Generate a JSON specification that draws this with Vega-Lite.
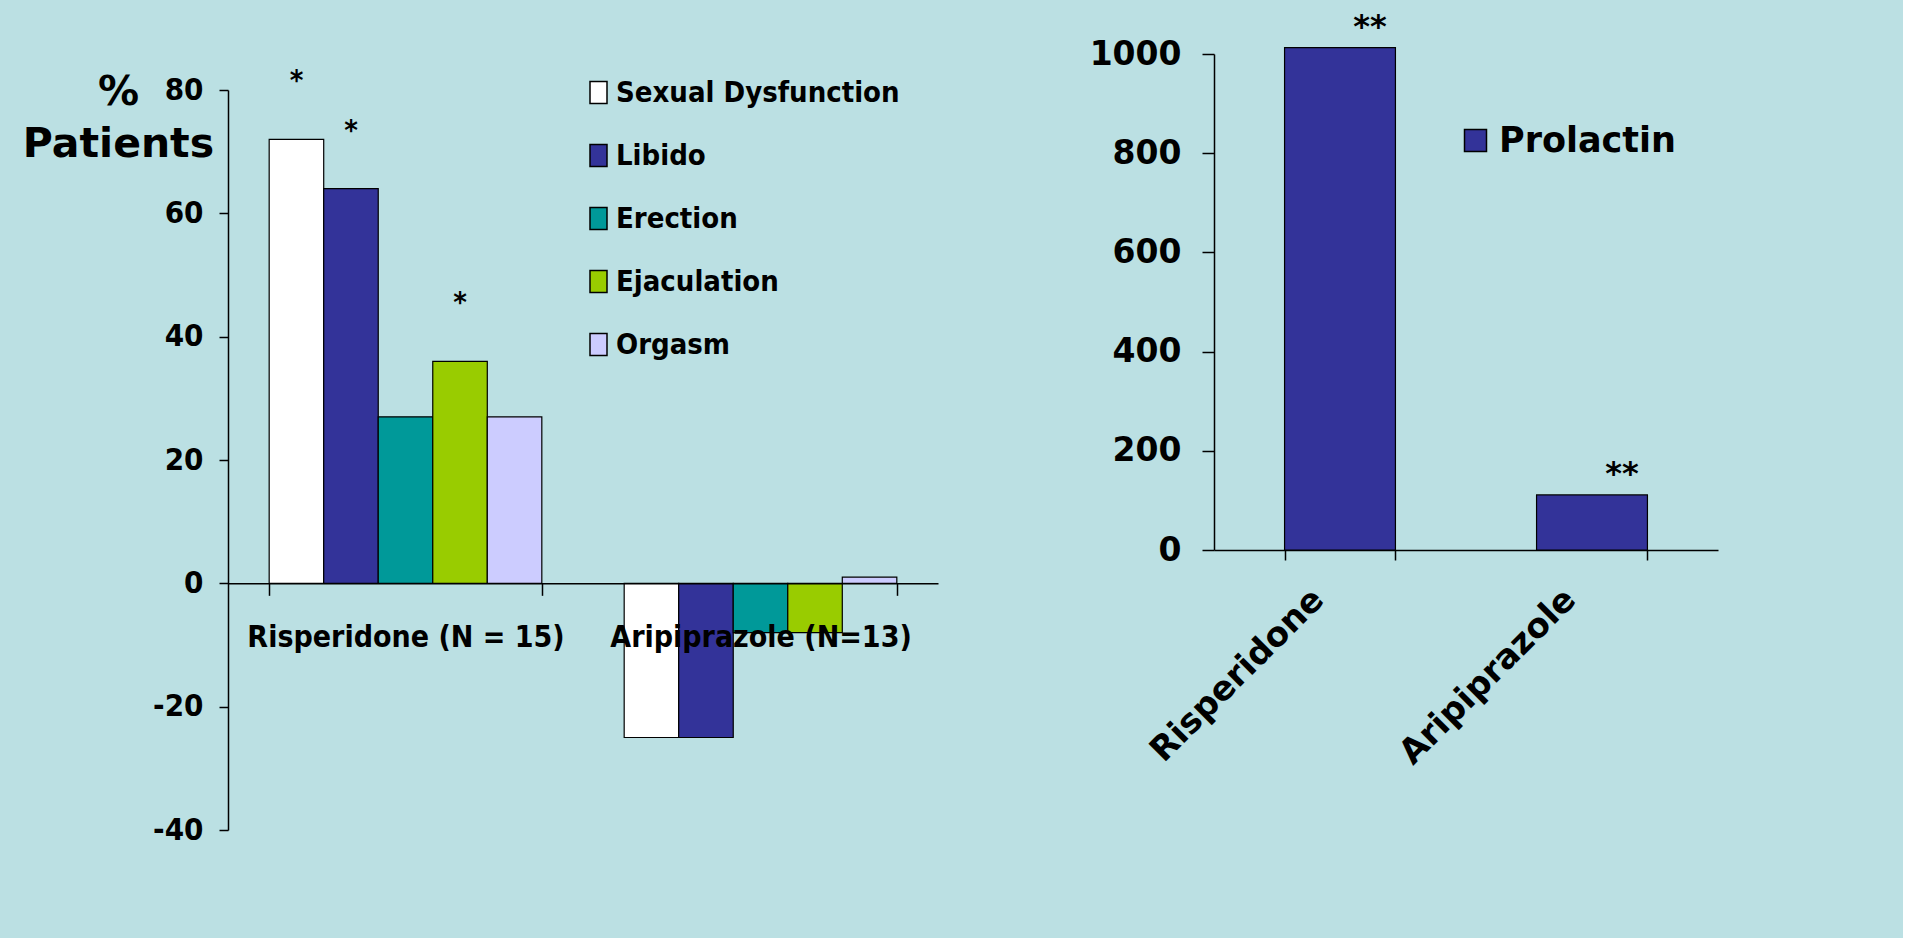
{
  "$schema": "https://vega.github.io/schema/vega-lite/v6.json",
  "background": "#BBE0E3",
  "padding": {"left": 22, "top": 10, "right": 185, "bottom": 109},
  "config": {
    "view": {"stroke": null},
    "axis": {"grid": false, "domainColor": "#000000", "tickColor": "#000000", "labelColor": "#000000", "titleColor": "#000000", "domainWidth": 1.5, "tickWidth": 1.5},
    "concat": {"spacing": 151}
  },
  "resolve": {"scale": {"color": "independent"}, "legend": {"color": "independent"}},
  "datasets": {
    "sexual": [
      {"drug": "Risperidone (N = 15)", "measure": "Sexual Dysfunction", "value": 72, "star": "*"},
      {"drug": "Risperidone (N = 15)", "measure": "Libido", "value": 64, "star": "*"},
      {"drug": "Risperidone (N = 15)", "measure": "Erection", "value": 27, "star": ""},
      {"drug": "Risperidone (N = 15)", "measure": "Ejaculation", "value": 36, "star": "*"},
      {"drug": "Risperidone (N = 15)", "measure": "Orgasm", "value": 27, "star": ""},
      {"drug": "Aripiprazole (N=13)", "measure": "Sexual Dysfunction", "value": -25, "star": ""},
      {"drug": "Aripiprazole (N=13)", "measure": "Libido", "value": -25, "star": ""},
      {"drug": "Aripiprazole (N=13)", "measure": "Erection", "value": -8, "star": ""},
      {"drug": "Aripiprazole (N=13)", "measure": "Ejaculation", "value": -8, "star": ""},
      {"drug": "Aripiprazole (N=13)", "measure": "Orgasm", "value": 1, "star": ""}
    ],
    "prolactin": [
      {"drug": "Risperidone", "series": "Prolactin", "prolactin": 1013, "star": "**"},
      {"drug": "Aripiprazole", "series": "Prolactin", "prolactin": 111, "star": "**"}
    ]
  },
  "hconcat": [
    {
      "width": 710,
      "height": 776,
      "data": {"name": "sexual"},
      "encoding": {
        "x": {
          "field": "drug", "type": "nominal",
          "sort": ["Risperidone (N = 15)", "Aripiprazole (N=13)"],
          "scale": {"paddingInner": 0.232, "paddingOuter": 0.116},
          "axis": {
            "title": null, "orient": "bottom", "offset": -246.67, "labelAngle": 0,
            "tickBand": "extent", "tickSize": 12, "labelPadding": 27,
            "labelFont": "DejaVu Sans Condensed, DejaVu Sans", "labelFontSize": 30, "labelFontWeight": "bold",
            "labelLimit": 0, "zindex": 1
          }
        },
        "xOffset": {
          "field": "measure", "type": "nominal",
          "sort": ["Sexual Dysfunction", "Libido", "Erection", "Ejaculation", "Orgasm"],
          "scale": {"paddingInner": 0, "paddingOuter": 0}
        },
        "y": {
          "field": "value", "type": "quantitative",
          "scale": {"domain": [-40, 80], "range": [776, 36], "nice": false, "zero": false},
          "axis": {
            "title": ["%", "Patients"], "titleAngle": 0, "titleAlign": "center", "titleBaseline": "alphabetic",
            "titleX": -110, "titleY": 50, "titleFont": "DejaVu Sans", "titleFontSize": 41, "titleFontWeight": "bold",
            "titleLineHeight": 52,
            "values": [-40, -20, 0, 20, 40, 60, 80], "tickSize": 9, "labelPadding": 16,
            "labelFont": "DejaVu Sans Condensed, DejaVu Sans", "labelFontSize": 31, "labelFontWeight": "bold",
            "labelExpr": "'' + datum.value"
          }
        }
      },
      "layer": [
        {
          "mark": {"type": "bar", "stroke": "#000000", "strokeWidth": 1.2},
          "encoding": {
            "color": {
              "field": "measure", "type": "nominal",
              "scale": {
                "domain": ["Sexual Dysfunction", "Libido", "Erection", "Ejaculation", "Orgasm"],
                "range": ["#FFFFFF", "#333399", "#009999", "#99CC00", "#CCCCFF"]
              },
              "legend": {
                "title": null, "orient": "none", "legendX": 356, "legendY": 24, "direction": "vertical",
                "symbolType": "M-1,-1.3H1V1.3H-1Z", "symbolSize": 289,
                "symbolStrokeColor": "#000000", "symbolStrokeWidth": 1.5, "symbolOpacity": 1,
                "labelFont": "DejaVu Sans Condensed, DejaVu Sans", "labelFontSize": 29, "labelFontWeight": "bold",
                "labelColor": "#000000", "labelOffset": 3, "rowPadding": 33, "labelLimit": 0, "padding": 0
              }
            }
          }
        },
        {
          "transform": [{"filter": "datum.star != ''"}],
          "mark": {"type": "text", "dy": -49, "baseline": "alphabetic", "align": "center",
                   "font": "DejaVu Sans Condensed, DejaVu Sans", "fontSize": 29, "fontWeight": "bold", "color": "#000000"},
          "encoding": {"text": {"field": "star"}}
        }
      ]
    },
    {
      "width": 504,
      "height": 496,
      "data": {"name": "prolactin"},
      "encoding": {
        "x": {
          "field": "drug", "type": "nominal",
          "sort": ["Risperidone", "Aripiprazole"],
          "scale": {"paddingInner": 0.56, "paddingOuter": 0.28},
          "axis": {
            "title": null, "labelAngle": -45, "labelAlign": "right", "labelBaseline": "middle",
            "labelOffset": -22, "labelPadding": 34, "tickBand": "extent", "tickSize": 10,
            "labelFont": "DejaVu Sans", "labelFontSize": 34, "labelFontWeight": "bold", "labelLimit": 0
          }
        },
        "y": {
          "field": "prolactin", "type": "quantitative",
          "scale": {"domain": [0, 1000], "nice": false},
          "axis": {
            "title": null, "values": [0, 200, 400, 600, 800, 1000], "tickSize": 12, "labelPadding": 21,
            "labelFont": "DejaVu Sans", "labelFontSize": 33, "labelFontWeight": "bold",
            "labelExpr": "'' + datum.value"
          }
        }
      },
      "layer": [
        {
          "mark": {"type": "bar", "stroke": "#000000", "strokeWidth": 1.2, "clip": false},
          "encoding": {
            "color": {
              "field": "series", "type": "nominal",
              "scale": {"domain": ["Prolactin"], "range": ["#333399"]},
              "legend": {
                "title": null, "orient": "none", "legendX": 244, "legendY": 69,
                "symbolType": "square", "symbolSize": 484,
                "symbolStrokeColor": "#000000", "symbolStrokeWidth": 1.5, "symbolOpacity": 1,
                "labelFont": "DejaVu Sans", "labelFontSize": 35, "labelFontWeight": "bold",
                "labelColor": "#000000", "labelOffset": 6, "labelLimit": 0, "padding": 0
              }
            }
          }
        },
        {
          "mark": {"type": "text", "dx": 30, "dy": -11, "baseline": "alphabetic", "align": "center",
                   "font": "DejaVu Sans", "fontSize": 32, "fontWeight": "bold", "color": "#000000"},
          "encoding": {"text": {"field": "star"}}
        }
      ]
    }
  ]
}
